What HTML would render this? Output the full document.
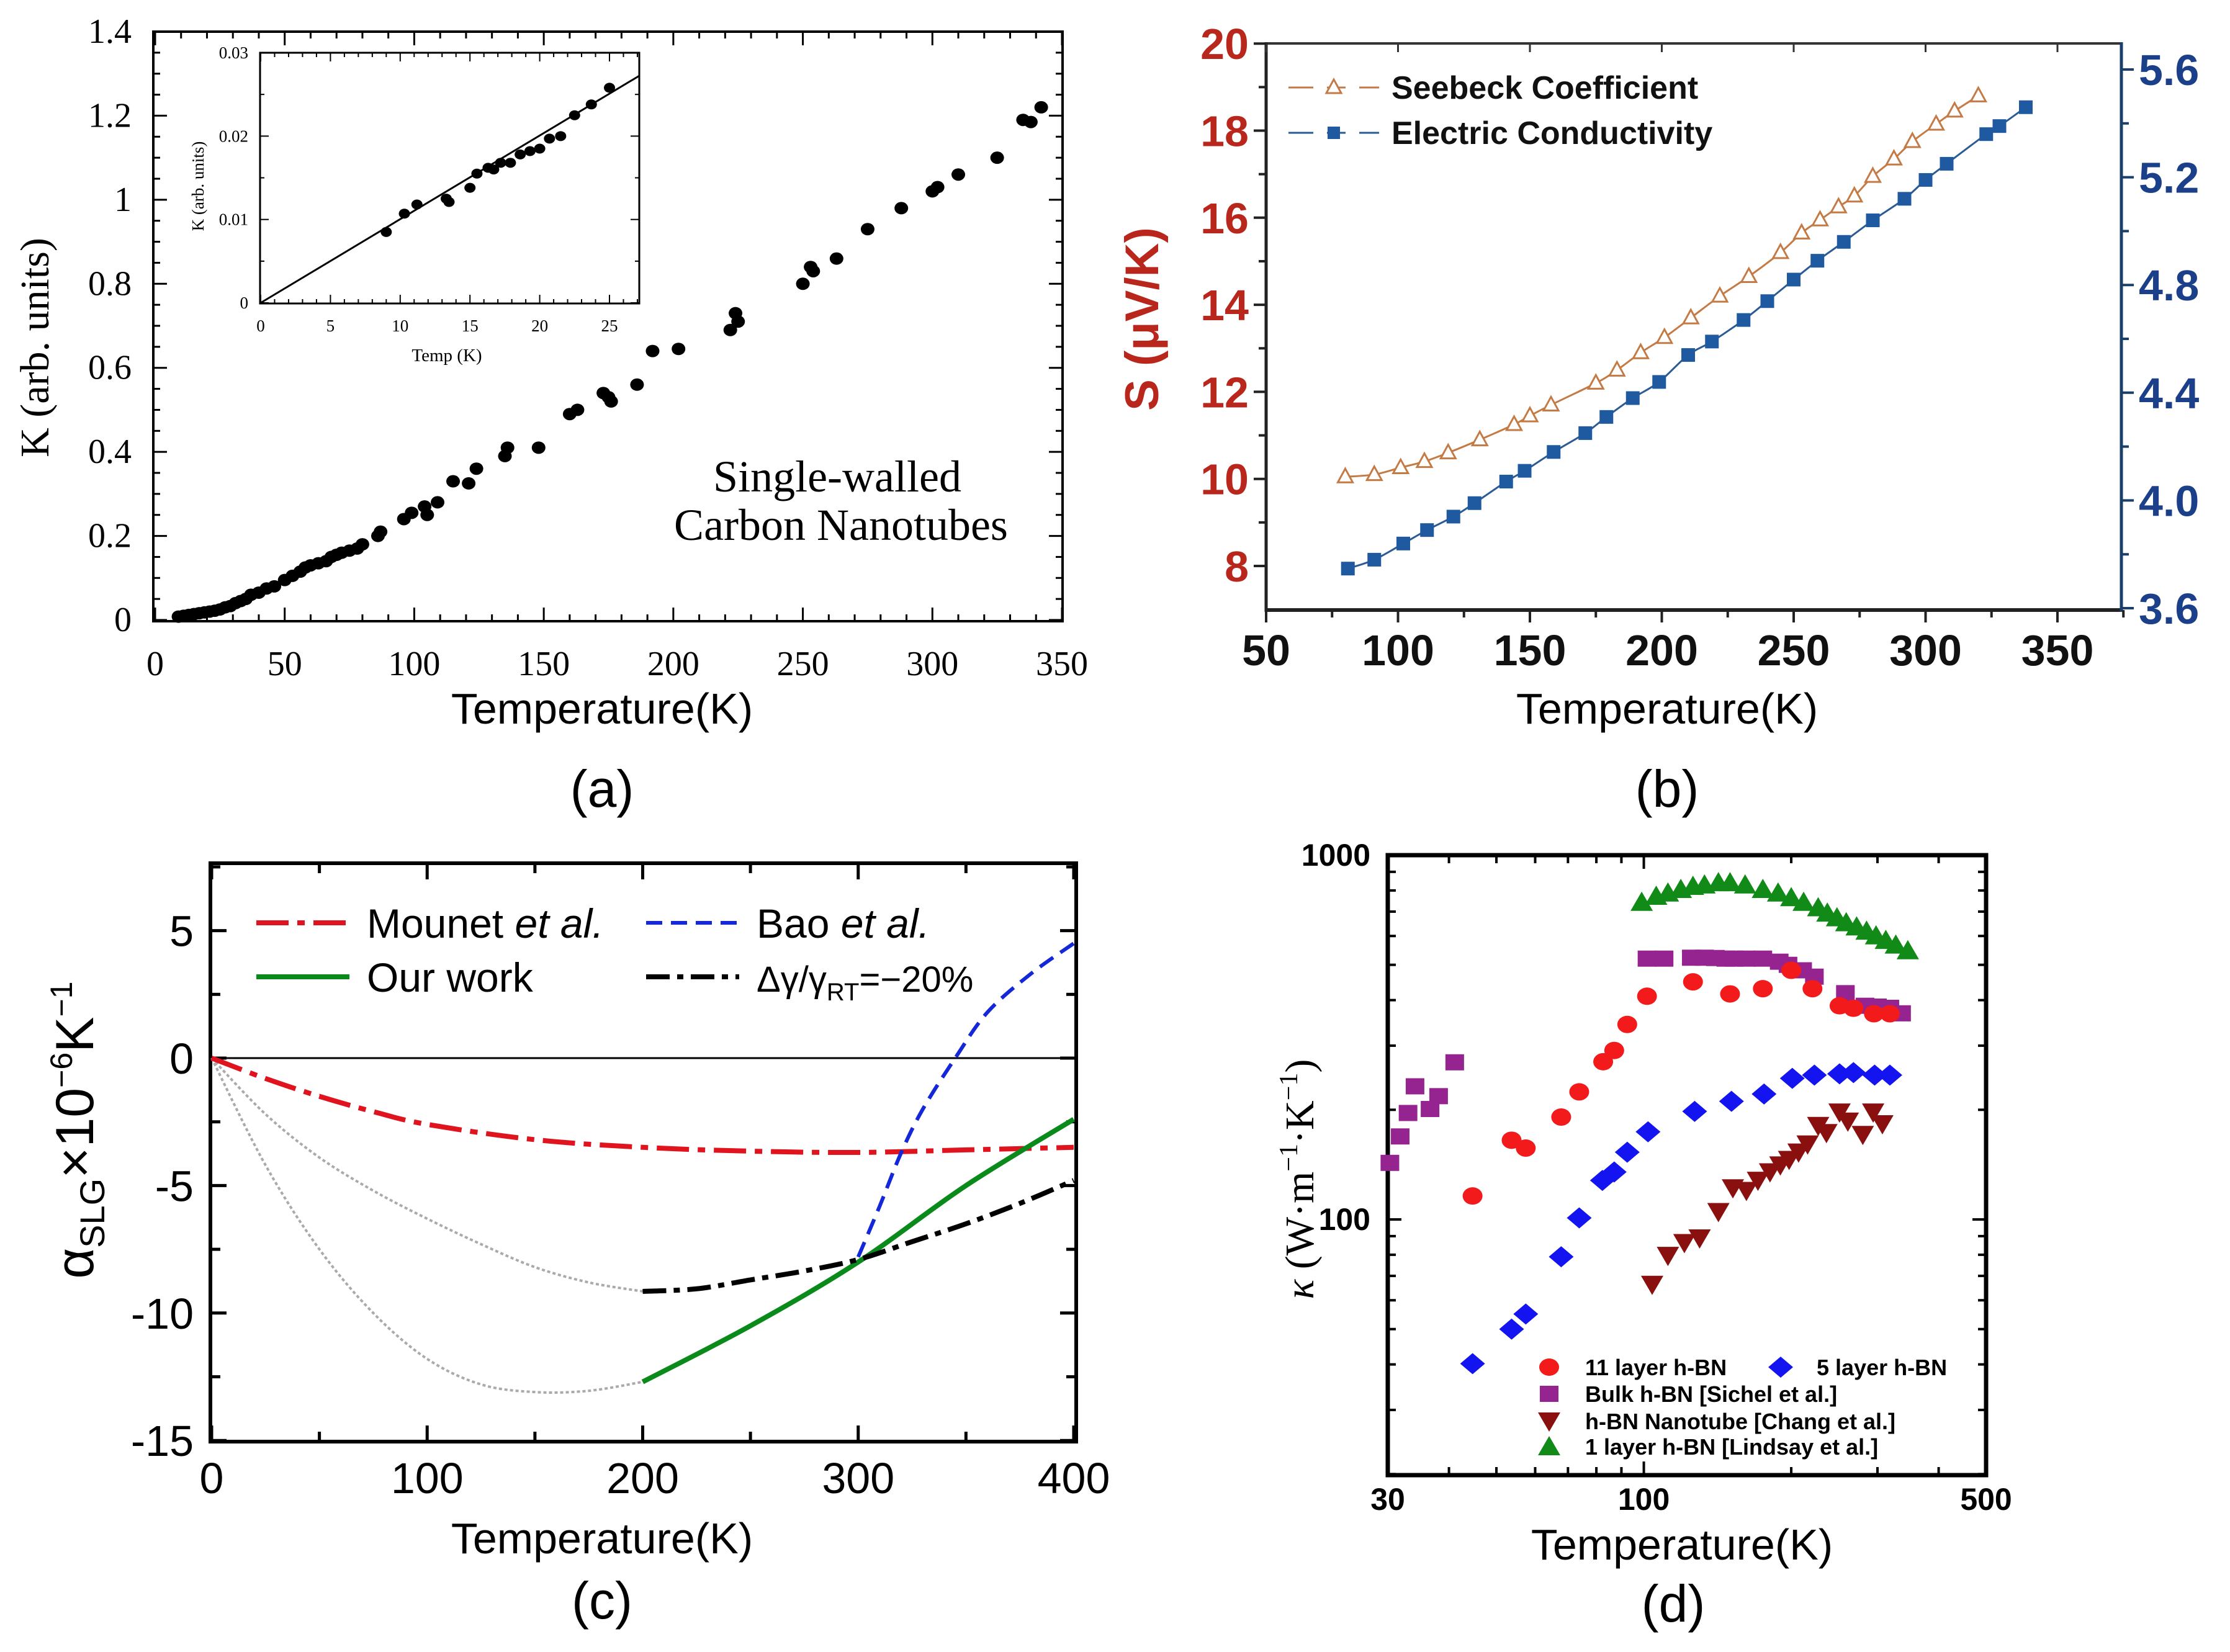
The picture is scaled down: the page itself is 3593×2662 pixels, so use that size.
<!DOCTYPE html>
<html><head><meta charset="utf-8"><style>
html,body{margin:0;padding:0;background:#fff;}
svg{display:block;}
</style></head><body>
<svg id="fig" xmlns="http://www.w3.org/2000/svg" width="3593" height="2662" viewBox="0 0 3593 2662">
<rect x="0" y="0" width="3593" height="2662" fill="#fff"/>
</svg>
<script>
// ---------- Panel (a) data ----------
const aTemp = [9,11,13,15,17,19,21,23,25,27,29,31,33,35,37,40,43,46,50,53,56,58,60,63,66,68,70,72,75,78,80,86,87,96,99,104,105,109,115,121,124,135,136,148,160,163,173,175,176,186,192,202,222,224,225,250,253,254,263,275,288,300,302,310,325,335,338,342];
const aK = [0.008,0.01,0.012,0.014,0.016,0.018,0.02,0.022,0.025,0.03,0.033,0.04,0.045,0.05,0.06,0.065,0.075,0.08,0.095,0.105,0.115,0.125,0.13,0.135,0.14,0.15,0.155,0.16,0.165,0.17,0.18,0.2,0.21,0.24,0.255,0.27,0.25,0.28,0.33,0.325,0.36,0.39,0.41,0.41,0.49,0.5,0.54,0.53,0.52,0.56,0.64,0.645,0.69,0.73,0.71,0.8,0.84,0.83,0.86,0.93,0.98,1.02,1.03,1.06,1.1,1.19,1.185,1.22];
const insetTemp = [9,10.3,11.2,13.3,13.5,15,15.5,16.3,16.7,17.2,17.9,18.6,19.3,20,20.7,21.5,22.5,23.7,25];
const insetK = [0.0085,0.0107,0.0118,0.0125,0.0121,0.0138,0.0155,0.0162,0.016,0.0168,0.0168,0.0178,0.0182,0.0185,0.0197,0.02,0.0225,0.0238,0.0258];
const insetFit = [[0,0],[27.1,0.0272]];
const aXTicks = [0,50,100,150,200,250,300,350];
const aYTicks = [0,0.2,0.4,0.6,0.8,1,1.2,1.4];
const insetXTicks = [0,5,10,15,20,25];
const insetYTicks = [0,0.01,0.02,0.03];
// ---------- Panel (b) data ----------
const seebeckT = [80,91,101,110,119,131,144,150,158,175,183,192,201,211,222,233,245,253,260,267,273,280,288,295,304,311,320];
const seebeckS = [10.05,10.1,10.26,10.4,10.6,10.9,11.25,11.45,11.7,12.2,12.5,12.9,13.25,13.7,14.2,14.65,15.2,15.65,15.95,16.25,16.5,16.95,17.35,17.75,18.15,18.45,18.8];
const condT = [81,91,102,111,121,129,141,148,159,171,179,189,199,210,219,231,240,250,259,269,280,292,300,308,323,328,338];
const condV = [3.747,3.78,3.84,3.89,3.94,3.99,4.07,4.11,4.18,4.25,4.31,4.38,4.44,4.54,4.59,4.67,4.74,4.82,4.89,4.96,5.04,5.12,5.19,5.25,5.36,5.39,5.46];
const bXTicks = [50,100,150,200,250,300,350];
const bLeftTicks = [8,10,12,14,16,18,20];
const bRightTicks = [3.6,4.0,4.4,4.8,5.2,5.6];
// ---------- Panel (c) data ----------
const mounetT = [0,25,50,75,100,150,200,250,300,350,400];
const mounetA = [0,-0.8,-1.5,-2.1,-2.6,-3.2,-3.5,-3.65,-3.7,-3.6,-3.5];
const grayLowT = [0,25,50,75,100,125,150,175,200];
const grayLowA = [0,-4.2,-7.5,-10,-11.8,-12.8,-13.1,-13.05,-12.7];
const ourT = [200,250,300,350,400];
const ourA = [-12.7,-10.5,-8.0,-5.0,-2.4];
const grayUpT = [0,25,50,75,100,125,150,175,200];
const grayUpA = [0,-2.2,-3.9,-5.2,-6.3,-7.3,-8.2,-8.8,-9.15];
const gammaT = [200,225,250,275,300,325,350,375,400];
const gammaA = [-9.15,-9.05,-8.7,-8.35,-7.9,-7.2,-6.5,-5.7,-4.8];
const baoT = [300,310,320,330,345,360,380,400];
const baoA = [-7.8,-5.8,-3.7,-2.0,0,1.8,3.3,4.5];
const cXTicks = [0,100,200,300,400];
const cYTicks = [5,0,-5,-10,-15];
// ---------- Panel (d) data ----------
const l11T = [44.7,53.7,57.4,67.8,73.8,82.6,87,92.5,101.5,126,150,175,200,221,251,268,295,318];
const l11K = [116,165,157,191,224,271,291,343,410,449,416,430,483,430,386,380,367,367];
const l5T = [44.7,53.7,57.4,67.8,73.8,82.3,87,92.5,102,127,151,176,201,223,251,268,296,318];
const l5K = [40.2,50,55,79,101,128,135,153,174,198,211,221,244,249,251,253,249,249];
const bulkT = [30.3,31.8,33,34.1,36.6,38.1,41.1,101.5,110,125,133,140,147,153,162,175,189,197,211,223,258,283,300,318,336];
const bulkK = [143,169,196,232,201,218,270,520,520,523,523,522,520,520,520,520,510,500,483,464,418,386,384,381,368];
const tubeT = [104,112,121,130,142,152,162,171,181,190,198,207,216,227,236,251,261,280,294,307];
const tubeK = [66.3,79.6,86.3,88.9,105,122,120,128,135,141,146,153,161,181,173,197,186,171,197,183];
const l1T = [99,106,112,119,126,133,142,150,161,175,188,200,212,227,237,248,259,272,285,298,312,327,346];
const l1K = [743,772,788,806,822,829,841,841,829,806,788,765,743,718,694,674,653,636,619,601,584,567,547];
const dXTicks = [30,100,500];
const dYTicks = [100,1000];

const NS = 'http://www.w3.org/2000/svg';
const svg = document.getElementById('fig');
function mk(tag, attrs, parent){const e=document.createElementNS(NS,tag);for(const k in attrs)e.setAttribute(k,attrs[k]);(parent||svg).appendChild(e);return e;}
function txt(s, attrs, parent){const e=mk('text',attrs,parent);e.textContent=s;return e;}
function smooth(pts){let d='M'+pts[0][0]+','+pts[0][1];for(let i=0;i<pts.length-1;i++){const p0=pts[Math.max(0,i-1)],p1=pts[i],p2=pts[i+1],p3=pts[Math.min(pts.length-1,i+2)];const c1x=p1[0]+(p2[0]-p0[0])/6,c1y=p1[1]+(p2[1]-p0[1])/6,c2x=p2[0]-(p3[0]-p1[0])/6,c2y=p2[1]-(p3[1]-p1[1])/6;d+=' C'+c1x+','+c1y+' '+c2x+','+c2y+' '+p2[0]+','+p2[1];}return d;}

// ===================== PANEL A =====================
const XA=t=>250+t*(1711-250)/350, YA=v=>999-v*(999-51)/1.4;
const XI=t=>420+t*(982-420)/25, YI=v=>488-v*(488-85)/0.03;
const gA = mk('g',{});


const frA = mk('rect',{x:247,y:51,width:1465,height:950,fill:'none',stroke:'#000','stroke-width':4},gA);


for(let t=0;t<=350;t+=10){const L=t%50===0?22:11;mk('line',{x1:XA(t),x2:XA(t),y1:1001,y2:1001-L,stroke:'#000','stroke-width':3},gA);mk('line',{x1:XA(t),x2:XA(t),y1:51,y2:51+L,stroke:'#000','stroke-width':3},gA);}
for(let i=0;i<=28;i++){const v=i*0.05;const L=i%4===0?22:11;mk('line',{x1:247,x2:247+L,y1:YA(v),y2:YA(v),stroke:'#000','stroke-width':3},gA);mk('line',{x1:1712,x2:1712-L,y1:YA(v),y2:YA(v),stroke:'#000','stroke-width':3},gA);}
aXTicks.forEach(t=>{const e=txt(String(t),{x:XA(t),y:1088,'font-family':'Liberation Serif, serif','font-size':56,'text-anchor':'middle'},gA);});
aYTicks.forEach(v=>{const e=txt(String(v),{x:212,y:YA(v)+18,'font-family':'Liberation Serif, serif','font-size':56,'text-anchor':'end'},gA);});
const aYT = txt('K (arb. units)',{x:0,y:0,transform:'translate(78,560) rotate(-90)','font-family':'Liberation Serif, serif','font-size':66,'text-anchor':'middle'},gA);


const aXT = txt('Temperature(K)',{x:970,y:1166,'font-family':'Liberation Sans, sans-serif','font-size':70,'text-anchor':'middle'},gA);


aTemp.forEach((t,i)=>{const c=mk('ellipse',{cx:XA(t),cy:YA(aK[i]),rx:11,ry:10,fill:'#000'},gA);});
const aN1 = txt('Single-walled',{x:1349,y:792,'font-family':'Liberation Serif, serif','font-size':72,'text-anchor':'middle'},gA);


const aN2 = txt('Carbon  Nanotubes',{x:1355,y:870,'font-family':'Liberation Serif, serif','font-size':72,'text-anchor':'middle'},gA);


// inset
const gIn = mk('g',{},gA);


mk('rect',{x:419,y:85,width:611,height:404,fill:'#fff',stroke:'#000','stroke-width':3},gIn);
for(let t=0;t<=27;t++){const L=t%5===0?14:7;mk('line',{x1:XI(t),x2:XI(t),y1:489,y2:489-L,stroke:'#000','stroke-width':2},gIn);mk('line',{x1:XI(t),x2:XI(t),y1:85,y2:85+L,stroke:'#000','stroke-width':2},gIn);}
for(let i=0;i<=6;i++){const v=i*0.005;const L=i%2===0?14:7;mk('line',{x1:419,x2:419+L,y1:YI(v),y2:YI(v),stroke:'#000','stroke-width':2},gIn);mk('line',{x1:1030,x2:1030-L,y1:YI(v),y2:YI(v),stroke:'#000','stroke-width':2},gIn);}
insetXTicks.forEach(t=>{const e=txt(String(t),{x:XI(t),y:534,'font-family':'Liberation Serif, serif','font-size':27,'text-anchor':'middle'},gIn);});
insetYTicks.forEach(v=>{const e=txt(String(v),{x:400,y:YI(v)+9,'font-family':'Liberation Serif, serif','font-size':27,'text-anchor':'end'},gIn);});
const inXT = txt('Temp (K)',{x:720,y:582,'font-family':'Liberation Serif, serif','font-size':29,'text-anchor':'middle'},gIn);


const inYT = txt('K (arb. units)',{x:0,y:0,transform:'translate(328,300) rotate(-90)','font-family':'Liberation Serif, serif','font-size':27,'text-anchor':'middle'},gIn);


const fit = mk('line',{x1:XI(insetFit[0][0]),y1:YI(insetFit[0][1]),x2:XI(insetFit[1][0]),y2:YI(insetFit[1][1]),stroke:'#000','stroke-width':3},gIn);


insetTemp.forEach((t,i)=>{const c=mk('ellipse',{cx:XI(t),cy:YI(insetK[i]),rx:9,ry:8,fill:'#000'},gIn);});
const labA = txt('(a)',{x:970,y:1300,'font-family':'Liberation Sans, sans-serif','font-size':84,'text-anchor':'middle'},gA);



// ===================== PANEL B =====================
const XB=t=>2040+(t-50)*4.25, YL=v=>912-(v-8)*70.15, YR=v=>980-(v-3.6)*434;
const gB = mk('g',{});


mk('line',{x1:2040,y1:70,x2:3418,y2:70,stroke:'#333','stroke-width':4},gB);
const bxAx = mk('line',{x1:2038,y1:983,x2:3420,y2:983,stroke:'#222','stroke-width':6},gB);


const blAx = mk('line',{x1:2040,y1:68,x2:2040,y2:986,stroke:'#222','stroke-width':5},gB);


const brAx = mk('line',{x1:3418,y1:68,x2:3418,y2:986,stroke:'#1a3f6a','stroke-width':5},gB);


for(let t=50;t<=375;t+=25){const L=t%50===0?20:12;mk('line',{x1:XB(t),x2:XB(t),y1:983,y2:983+L,stroke:'#222','stroke-width':4},gB);mk('line',{x1:XB(t),x2:XB(t),y1:70,y2:70+(t%50===0?14:0),stroke:'#333','stroke-width':3},gB);}
for(let v=8;v<=20;v+=1){const L=v%2===0?20:12;mk('line',{x1:2040,x2:2040-L,y1:YL(v),y2:YL(v),stroke:'#222','stroke-width':4},gB);}
for(let i=0;i<=10;i++){const v=3.6+i*0.2;const L=i%2===0?20:12;mk('line',{x1:3418,x2:3418+L,y1:YR(v),y2:YR(v),stroke:'#1a3f6a','stroke-width':4},gB);}
bXTicks.forEach(t=>{const e=txt(String(t),{x:XB(t),y:1072,'font-family':'Liberation Sans, sans-serif','font-size':70,'font-weight':'bold','text-anchor':'middle',fill:'#111'},gB);});
bLeftTicks.forEach(v=>{const e=txt(String(v),{x:2012,y:YL(v)+25,'font-family':'Liberation Sans, sans-serif','font-size':70,'font-weight':'bold','text-anchor':'end',fill:'#b8261c'},gB);});
bRightTicks.forEach(v=>{const e=txt(v.toFixed(1),{x:3446,y:YR(v)+25,'font-family':'Liberation Sans, sans-serif','font-size':70,'font-weight':'bold','text-anchor':'start',fill:'#1b3f88'},gB);});
const bYT = txt('S (\u03bcV/K)',{x:0,y:0,transform:'translate(1866,514) rotate(-90)','font-family':'Liberation Sans, sans-serif','font-size':76,'font-weight':'bold','text-anchor':'middle',fill:'#b8261c'},gB);


const bXT = txt('Temperature(K)',{x:2686,y:1166,'font-family':'Liberation Sans, sans-serif','font-size':70,'text-anchor':'middle'},gB);


const sLine = mk('path',{d:smooth(seebeckT.map((t,i)=>[XB(t),YL(seebeckS[i])])),fill:'none',stroke:'#c47a44','stroke-width':3},gB);


seebeckT.forEach((t,i)=>{const x=XB(t),y=YL(seebeckS[i]);const p=mk('path',{d:`M${x},${y-13} L${x+12},${y+9} L${x-12},${y+9} Z`,fill:'#fff',stroke:'#c47a44','stroke-width':3},gB);});
const cLine = mk('path',{d:smooth(condT.map((t,i)=>[XB(t),YR(condV[i])])),fill:'none',stroke:'#2b5b94','stroke-width':3},gB);


condT.forEach((t,i)=>{const x=XB(t),y=YR(condV[i]);const p=mk('rect',{x:x-11,y:y-11,width:22,height:22,fill:'#1f5aa0'},gB);});
const lgB1 = mk('g',{},gB);


mk('line',{x1:2076,x2:2222,y1:141,y2:141,stroke:'#c47a44','stroke-width':3,'stroke-dasharray':'40 22 30 22 60'},lgB1);
mk('path',{d:'M2149,128 L2161,150 L2137,150 Z',fill:'#fff',stroke:'#c47a44','stroke-width':3},lgB1);
txt('Seebeck Coefficient',{x:2242,y:159,'font-family':'Liberation Sans, sans-serif','font-size':52,'font-weight':'bold',fill:'#111'},lgB1);
const lgB2 = mk('g',{},gB);


mk('line',{x1:2076,x2:2222,y1:214,y2:214,stroke:'#2b5b94','stroke-width':3,'stroke-dasharray':'40 22 30 22 60'},lgB2);
mk('rect',{x:2139,y:204,width:20,height:20,fill:'#1f5aa0'},lgB2);
txt('Electric Conductivity',{x:2242,y:232,'font-family':'Liberation Sans, sans-serif','font-size':52,'font-weight':'bold',fill:'#111'},lgB2);
const labB = txt('(b)',{x:2686,y:1300,'font-family':'Liberation Sans, sans-serif','font-size':84,'text-anchor':'middle'},gB);



// ===================== PANEL C =====================
const XC=t=>341+t*3.4725, YC=v=>1705-v*41.08;
const gC = mk('g',{});


const frC = mk('rect',{x:339,y:1391,width:1395,height:932,fill:'none',stroke:'#000','stroke-width':6},gC);


for(let t=0;t<=400;t+=50){const L=t%100===0?26:16;mk('line',{x1:XC(t),x2:XC(t),y1:2323,y2:2323-L,stroke:'#000','stroke-width':5},gC);mk('line',{x1:XC(t),x2:XC(t),y1:1391,y2:1391+L,stroke:'#000','stroke-width':5},gC);}
for(let v=-15;v<=7.5;v+=2.5){const L=(v%5===0)?26:16;mk('line',{x1:339,x2:339+L,y1:YC(v),y2:YC(v),stroke:'#000','stroke-width':5},gC);mk('line',{x1:1734,x2:1734-L,y1:YC(v),y2:YC(v),stroke:'#000','stroke-width':5},gC);}
const zl = mk('line',{x1:339,x2:1734,y1:YC(0),y2:YC(0),stroke:'#000','stroke-width':3},gC);


cXTicks.forEach(t=>{const e=txt(String(t),{x:XC(t),y:2406,'font-family':'Liberation Sans, sans-serif','font-size':70,'text-anchor':'middle'},gC);});
cYTicks.forEach(v=>{const e=txt(String(v),{x:312,y:YC(v)+25,'font-family':'Liberation Sans, sans-serif','font-size':70,'text-anchor':'end'},gC);});
const cYT = mk('text',{x:0,y:0,transform:'translate(150,1821) rotate(-90)','font-family':'Liberation Sans, sans-serif','font-size':86,'text-anchor':'middle'},gC);


cYT.innerHTML='\u03b1<tspan font-size="56" dy="18">SLG</tspan><tspan dy="-18">\u00d710</tspan><tspan font-size="50" dy="-34">\u22126</tspan><tspan dy="34">K</tspan><tspan font-size="50" dy="-34">\u22121</tspan>';
const cXT = txt('Temperature(K)',{x:970,y:2503,'font-family':'Liberation Sans, sans-serif','font-size':70,'text-anchor':'middle'},gC);


function cLineDraw(T,A,attrs,name){const p=mk('path',Object.assign({d:smooth(T.map((t,i)=>[XC(t),YC(A[i])])),fill:'none'},attrs),gC);return p;}
cLineDraw(grayUpT,grayUpA,{stroke:'#aaa','stroke-width':4,'stroke-dasharray':'5 4'},'gray-dotted-upper');
cLineDraw(grayLowT,grayLowA,{stroke:'#aaa','stroke-width':4,'stroke-dasharray':'5 4'},'gray-dotted-lower');
cLineDraw(mounetT,mounetA,{stroke:'#e0141e','stroke-width':8,'stroke-dasharray':'52 14 12 14'},'mounet-line');
cLineDraw(ourT,ourA,{stroke:'#0b8a1c','stroke-width':8},'our-work-line');
cLineDraw(gammaT,gammaA,{stroke:'#000','stroke-width':8,'stroke-dasharray':'38 12 10 12'},'gamma-line');
cLineDraw(baoT,baoA,{stroke:'#1428d8','stroke-width':6,'stroke-dasharray':'26 14'},'bao-line');
function cLeg(x1,y,attrs,html,name){const g=mk('g',{},gC);mk('line',Object.assign({x1:x1,x2:x1+150,y1:y,y2:y},attrs),g);const t=mk('text',{x:x1+178,y:y+24,'font-family':'Liberation Sans, sans-serif','font-size':66},g);t.innerHTML=html;return g;}
cLeg(413,1487,{stroke:'#e0141e','stroke-width':8,'stroke-dasharray':'52 14 12 14'},'Mounet <tspan font-style="italic">et al.</tspan>','legend-entry-mounet');
cLeg(1041,1487,{stroke:'#1428d8','stroke-width':6,'stroke-dasharray':'26 14'},'Bao <tspan font-style="italic">et al.</tspan>','legend-entry-bao');
cLeg(413,1574,{stroke:'#0b8a1c','stroke-width':8},'Our work','legend-entry-our-work');
cLeg(1041,1574,{stroke:'#000','stroke-width':8,'stroke-dasharray':'38 12 10 12'},'<tspan font-size="58">\u0394\u03b3/\u03b3</tspan><tspan font-size="40" dy="14">RT</tspan><tspan font-size="58" dy="-14">=\u221220%</tspan>','legend-entry-gamma');
const labC = txt('(c)',{x:970,y:2608,'font-family':'Liberation Sans, sans-serif','font-size':84,'text-anchor':'middle'},gC);



// ===================== PANEL D =====================
const XD=t=>2236+Math.log10(t/30)*789, YD=v=>1965-Math.log10(v/100)*587;
const gD = mk('g',{});


const frD = mk('rect',{x:2236,y:1378,width:964,height:999,fill:'none',stroke:'#000','stroke-width':7},gD);


[40,50,60,70,80,90,100,200,300,400].forEach(t=>{const L=t===100?22:13;mk('line',{x1:XD(t),x2:XD(t),y1:2377,y2:2377-L,stroke:'#000','stroke-width':4},gD);mk('line',{x1:XD(t),x2:XD(t),y1:1378,y2:1378+L,stroke:'#000','stroke-width':4},gD);});
[20,30,40,50,60,70,80,90,100,200,300,400,500,600,700,800,900].forEach(v=>{const L=(v===100)?22:13;mk('line',{x1:2236,x2:2236+L,y1:YD(v),y2:YD(v),stroke:'#000','stroke-width':4},gD);mk('line',{x1:3200,x2:3200-L,y1:YD(v),y2:YD(v),stroke:'#000','stroke-width':4},gD);});
dXTicks.forEach(t=>{const e=txt(String(t),{x:XD(t),y:2433,'font-family':'Liberation Sans, sans-serif','font-size':50,'font-weight':'bold','text-anchor':'middle'},gD);});
dYTicks.forEach(v=>{const e=txt(String(v),{x:2208,y:YD(v)+17,'font-family':'Liberation Sans, sans-serif','font-size':50,'font-weight':'bold','text-anchor':'end'},gD);});
const dYT = mk('text',{x:0,y:0,transform:'translate(2116,1900) rotate(-90)','font-family':'Liberation Serif, serif','font-size':66,'text-anchor':'middle'},gD);


dYT.innerHTML='<tspan font-style="italic">\u03ba</tspan> (W\u00b7m<tspan font-size="42" dy="-26">\u22121</tspan><tspan dy="26">\u00b7K</tspan><tspan font-size="42" dy="-26">\u22121</tspan><tspan dy="26">)</tspan>';
const dXT = txt('Temperature(K)',{x:2710,y:2513,'font-family':'Liberation Sans, sans-serif','font-size':70,'text-anchor':'middle'},gD);


function marker(kind,x,y,col,parent){if(kind==='circle')return mk('ellipse',{cx:x,cy:y,rx:16,ry:14,fill:col},parent);if(kind==='square')return mk('rect',{x:x-15,y:y-13,width:30,height:26,fill:col},parent);if(kind==='diamond')return mk('path',{d:`M${x},${y-17} L${x+20},${y} L${x},${y+17} L${x-20},${y} Z`,fill:col},parent);if(kind==='down')return mk('path',{d:`M${x-18},${y-14} L${x+18},${y-14} L${x},${y+17} Z`,fill:col},parent);return mk('path',{d:`M${x},${y-17} L${x+18},${y+14} L${x-18},${y+14} Z`,fill:col},parent);}
bulkT.forEach((t,i)=>{const m=marker('square',XD(t),YD(bulkK[i]),'#952390',gD);});
l1T.forEach((t,i)=>{const m=marker('up',XD(t),YD(l1K[i]),'#118a18',gD);});
l11T.forEach((t,i)=>{const m=marker('circle',XD(t),YD(l11K[i]),'#f21a1a',gD);});
l5T.forEach((t,i)=>{const m=marker('diamond',XD(t),YD(l5K[i]),'#1414f0',gD);});
tubeT.forEach((t,i)=>{const m=marker('down',XD(t),YD(tubeK[i]),'#8a1010',gD);});
function dLeg(kind,x,y,col,label,name){const g=mk('g',{},gD);marker(kind,x,y,col,g);txt(label,{x:x+58,y:y+13,'font-family':'Liberation Sans, sans-serif','font-size':36,'font-weight':'bold'},g);}
dLeg('circle',2496,2203,'#f21a1a','11 layer h-BN','legend-entry-11-layer');
dLeg('diamond',2869,2203,'#1414f0','5 layer h-BN','legend-entry-5-layer');
dLeg('square',2496,2246,'#952390','Bulk h-BN [Sichel et al.]','legend-entry-bulk');
dLeg('down',2496,2290,'#8a1010','h-BN Nanotube [Chang et al.]','legend-entry-nanotube');
dLeg('up',2496,2331,'#118a18','1 layer h-BN [Lindsay et al.]','legend-entry-1-layer');
const labD = txt('(d)',{x:2696,y:2613,'font-family':'Liberation Sans, sans-serif','font-size':84,'text-anchor':'middle'},gD);


</script>
</body></html>
